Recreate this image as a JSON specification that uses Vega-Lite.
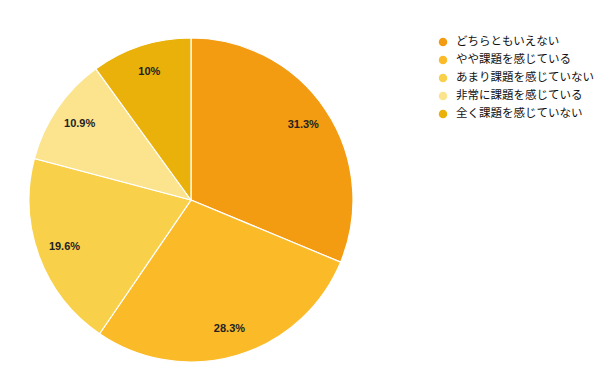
{
  "$schema": "https://vega.github.io/schema/vega-lite/v6.json",
  "width": 382,
  "height": 324,
  "autosize": {"type": "none"},
  "padding": {"left": 0, "top": 38, "right": 218, "bottom": 12},
  "background": "white",
  "data": {"values": [
    {"cat": "どちらともいえない", "v": 31.3, "label": "31.3%", "o": 1},
    {"cat": "やや課題を感じている", "v": 28.3, "label": "28.3%", "o": 2},
    {"cat": "あまり課題を感じていない", "v": 19.6, "label": "19.6%", "o": 3},
    {"cat": "非常に課題を感じている", "v": 10.9, "label": "10.9%", "o": 4},
    {"cat": "全く課題を感じていない", "v": 10.0, "label": "10%", "o": 5}
  ]},
  "encoding": {
    "theta": {"field": "v", "type": "quantitative", "stack": true},
    "order": {"field": "o", "type": "quantitative"}
  },
  "layer": [
    {
      "mark": {"type": "arc", "outerRadius": 162, "stroke": "white", "strokeWidth": 1.2},
      "encoding": {
        "color": {
          "field": "cat", "type": "nominal",
          "sort": ["どちらともいえない", "やや課題を感じている", "あまり課題を感じていない", "非常に課題を感じている", "全く課題を感じていない"],
          "scale": {"range": ["#F39C12", "#FBBA27", "#F9D04A", "#FBE48D", "#E9B10A"]},
          "legend": {
            "title": null, "orient": "none", "legendX": 437, "legendY": -2,
            "symbolType": "circle", "symbolSize": 100, "labelFontSize": 11.5,
            "labelFont": "Noto Sans CJK JP", "labelColor": "#111111",
            "rowPadding": 2, "labelOffset": 7, "labelLimit": 300
          }
        }
      }
    },
    {
      "mark": {"type": "text", "radius": 135, "font": "Liberation Sans", "fontSize": 11, "fontWeight": "bold", "fill": "#222222"},
      "encoding": {"text": {"field": "label"}}
    }
  ]
}
